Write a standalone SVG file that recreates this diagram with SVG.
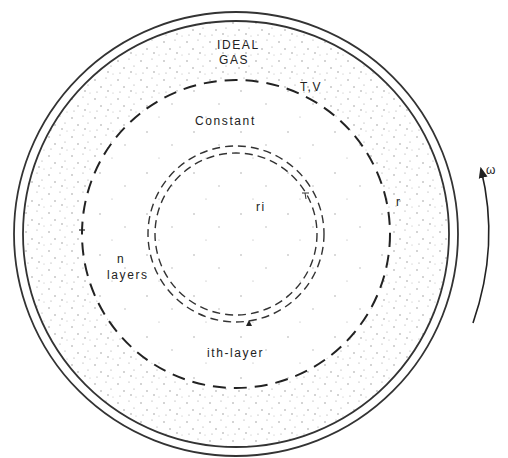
<svg xmlns="http://www.w3.org/2000/svg" width="508" height="458" viewBox="0 0 508 458">
<defs>
<pattern id="stip" width="23" height="19" patternUnits="userSpaceOnUse">
<circle cx="3" cy="4" r="0.7" fill="#888"/>
<circle cx="14" cy="2" r="0.6" fill="#999"/>
<circle cx="9" cy="11" r="0.7" fill="#888"/>
<circle cx="19" cy="9" r="0.6" fill="#999"/>
<circle cx="5" cy="16" r="0.6" fill="#999"/>
<circle cx="16" cy="15" r="0.7" fill="#888"/>
<circle cx="21" cy="17" r="0.5" fill="#aaa"/>
</pattern>
<pattern id="sparse" width="47" height="41" patternUnits="userSpaceOnUse">
<circle cx="6" cy="9" r="0.7" fill="#999"/>
<circle cx="31" cy="22" r="0.7" fill="#aaa"/>
<circle cx="18" cy="35" r="0.6" fill="#aaa"/>
</pattern>
<marker id="ah" viewBox="0 0 10 10" refX="8" refY="5" markerWidth="7" markerHeight="7" orient="auto">
<path d="M0,1 L10,5 L0,9 Z" fill="#222"/>
</marker>
<style>
.solid{fill:none;stroke:#333;stroke-width:1.8}
.bigd{fill:none;stroke:#222;stroke-width:2;stroke-dasharray:13 8}
.smd{fill:none;stroke:#333;stroke-width:1.4;stroke-dasharray:8 5}
.t{font-family:"Liberation Sans",Arial,sans-serif;fill:#222;font-size:12px;letter-spacing:1.6px}
</style>
</defs>
<rect width="508" height="458" fill="#fff"/>
<g id="vessel">
<path d="M236,234 m-213,0 a213,213 0 1,0 426,0 a213,213 0 1,0 -426,0 Z M236,234 m-154,0 a154,154 0 1,0 308,0 a154,154 0 1,0 -308,0 Z" fill="url(#stip)" fill-rule="evenodd"/>
<circle cx="236" cy="234" r="154" fill="url(#sparse)"/>
<circle class="solid" cx="236" cy="234" r="222"/>
<circle class="solid" cx="236" cy="234" r="213"/>
</g>
<g id="gas-boundary">
<circle class="bigd" cx="236" cy="234" r="154"/>
<line x1="79" y1="230" x2="85" y2="230" stroke="#222" stroke-width="1.2"/>
</g>
<g id="layers">
<circle class="smd" cx="236" cy="234" r="88"/>
<circle class="smd" cx="236" cy="234" r="81"/>
<path d="M246,326 L249,320 L252,326 Z" fill="#222"/>
<path d="M302,193 L309,193 M305,193 L306,199" stroke="#333" stroke-width="1" fill="none"/>
</g>
<g id="connectors">
<path d="M473,323 Q500,245 481,169" fill="none" stroke="#222" stroke-width="1.6" marker-end="url(#ah)"/>
</g>
<g id="labels">
<text class="t" x="217" y="49">IDEAL</text>
<text class="t" x="219" y="64">GAS</text>
<text class="t" x="300" y="91" font-size="11">T,V</text>
<text class="t" x="195" y="125">Constant</text>
<text class="t" x="117" y="263" font-size="11">n</text>
<text class="t" x="107" y="279">layers</text>
<text class="t" x="396" y="206" font-size="10">r</text>
<text class="t" x="256" y="211" font-size="8">ri</text>
<text class="t" x="207" y="357">ith-layer</text>
<text class="t" x="486" y="174" font-size="17" letter-spacing="0">ω</text>
</g>
</svg>
